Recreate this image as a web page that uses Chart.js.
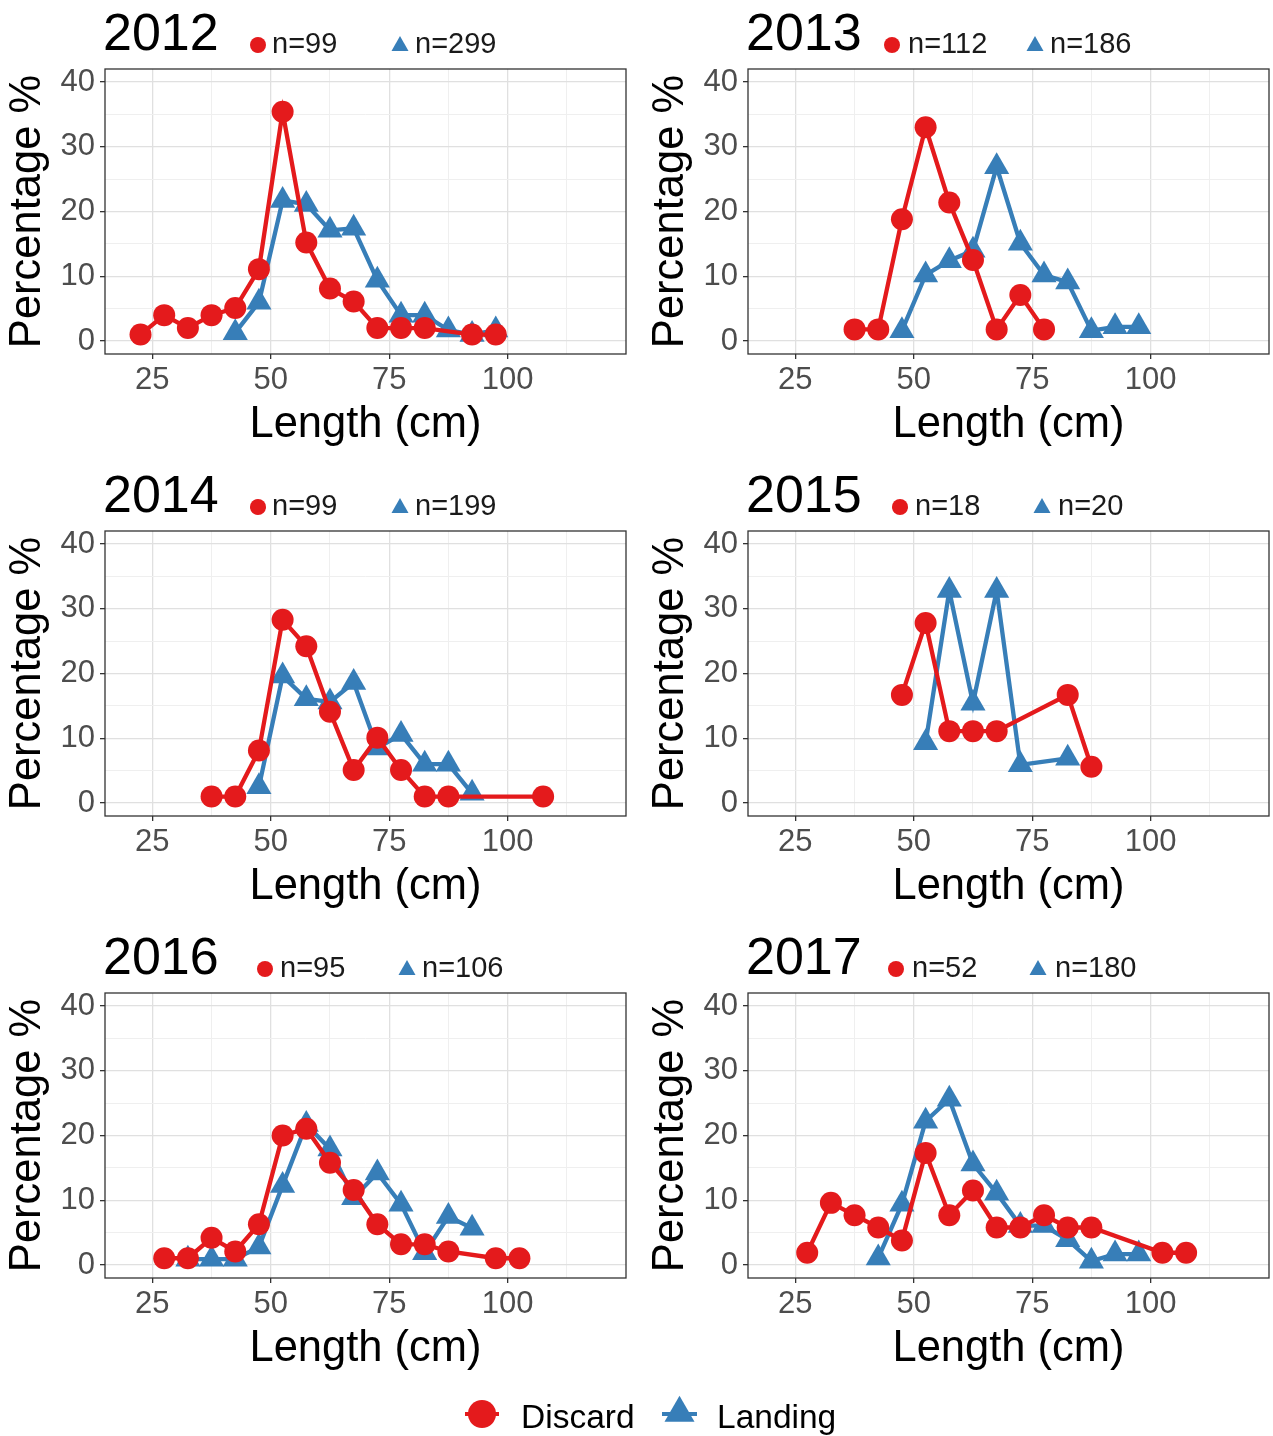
<!DOCTYPE html>
<html>
<head>
<meta charset="utf-8">
<script src="https://cdn.jsdelivr.net/npm/chart.js@4.4.1/dist/chart.umd.min.js"></script>
<style>
  html, body { margin: 0; padding: 0; background: #ffffff; }
  #page { position: relative; width: 1273px; height: 1436px; overflow: hidden; background: #fff; }
  #page canvas { position: absolute; }
  #overlay { position: absolute; left: 0; top: 0; }
  #overlay text { font-family: "Liberation Sans", Arial, sans-serif; }
</style>
</head>
<body>
<div id="page">
  <svg id="overlay" width="1273" height="1436" xmlns="http://www.w3.org/2000/svg"></svg>
</div>
<script>
// ---------------- DATA ----------------
const years = ['2012', '2013', '2014', '2015', '2016', '2017'];
const discardN = [99, 112, 99, 18, 95, 52];
const landingN = [299, 186, 199, 20, 106, 180];
const seriesNames = ['Discard', 'Landing'];
const xTickLabels = [25, 50, 75, 100];
const xMinorTicks = [37.5, 62.5, 87.5, 112.5];
const yTickLabels = [0, 10, 20, 30, 40];
const yMinorTicks = [5, 15, 25, 35];

const discard2012Len = [22.5, 27.5, 32.5, 37.5, 42.5, 47.5, 52.5, 57.5, 62.5, 67.5, 72.5, 77.5, 82.5, 92.5, 97.5];
const discard2012Pct = [1.0, 4.0, 2.0, 4.0, 5.1, 11.1, 35.4, 15.2, 8.1, 6.1, 2.0, 2.0, 2.0, 1.0, 1.0];
const landing2012Len = [42.5, 47.5, 52.5, 57.5, 62.5, 67.5, 72.5, 77.5, 82.5, 87.5, 92.5, 97.5];
const landing2012Pct = [1.3, 6.0, 21.7, 21.1, 17.1, 17.4, 9.4, 4.0, 4.0, 1.7, 1.0, 1.7];

const discard2013Len = [37.5, 42.5, 47.5, 52.5, 57.5, 62.5, 67.5, 72.5, 77.5];
const discard2013Pct = [1.8, 1.8, 18.8, 33.0, 21.4, 12.5, 1.8, 7.1, 1.8];
const landing2013Len = [47.5, 52.5, 57.5, 62.5, 67.5, 72.5, 77.5, 82.5, 87.5, 92.5, 97.5];
const landing2013Pct = [1.6, 10.2, 12.4, 14.0, 26.9, 15.1, 10.2, 9.1, 1.6, 2.2, 2.2];

const discard2014Len = [37.5, 42.5, 47.5, 52.5, 57.5, 62.5, 67.5, 72.5, 77.5, 82.5, 87.5, 107.5];
const discard2014Pct = [1.0, 1.0, 8.1, 28.3, 24.2, 14.1, 5.1, 10.1, 5.1, 1.0, 1.0, 1.0];
const landing2014Len = [47.5, 52.5, 57.5, 62.5, 67.5, 72.5, 77.5, 82.5, 87.5, 92.5];
const landing2014Pct = [2.5, 19.6, 16.1, 15.6, 18.6, 8.5, 10.6, 6.0, 6.0, 1.5];

const discard2015Len = [47.5, 52.5, 57.5, 62.5, 67.5, 82.5, 87.5];
const discard2015Pct = [16.7, 27.8, 11.1, 11.1, 11.1, 16.7, 5.6];
const landing2015Len = [52.5, 57.5, 62.5, 67.5, 72.5, 82.5];
const landing2015Pct = [9.3, 32.8, 15.4, 32.8, 5.9, 6.9];

const discard2016Len = [27.5, 32.5, 37.5, 42.5, 47.5, 52.5, 57.5, 62.5, 67.5, 72.5, 77.5, 82.5, 87.5, 97.5, 102.5];
const discard2016Pct = [1.05, 1.05, 4.2, 2.1, 6.3, 20.0, 21.05, 15.8, 11.6, 6.3, 3.2, 3.2, 2.1, 1.05, 1.05];
const landing2016Len = [32.5, 37.5, 42.5, 47.5, 52.5, 57.5, 62.5, 67.5, 72.5, 77.5, 82.5, 87.5, 92.5];
const landing2016Pct = [0.9, 0.9, 0.9, 2.8, 12.3, 21.7, 17.9, 10.4, 14.2, 9.4, 1.9, 7.5, 5.7];

const discard2017Len = [27.5, 32.5, 37.5, 42.5, 47.5, 52.5, 57.5, 62.5, 67.5, 72.5, 77.5, 82.5, 87.5, 102.5, 107.5];
const discard2017Pct = [1.9, 9.6, 7.7, 5.8, 3.8, 17.3, 7.7, 11.5, 5.8, 5.8, 7.7, 5.8, 5.8, 1.9, 1.9];
const landing2017Len = [42.5, 47.5, 52.5, 57.5, 62.5, 67.5, 72.5, 77.5, 82.5, 87.5, 92.5, 97.5];
const landing2017Pct = [1.1, 9.4, 22.2, 25.6, 15.6, 11.1, 6.1, 6.1, 3.9, 0.6, 1.7, 1.7];

const discardLens = [discard2012Len, discard2013Len, discard2014Len, discard2015Len, discard2016Len, discard2017Len];
const discardPcts = [discard2012Pct, discard2013Pct, discard2014Pct, discard2015Pct, discard2016Pct, discard2017Pct];
const landingLens = [landing2012Len, landing2013Len, landing2014Len, landing2015Len, landing2016Len, landing2017Len];
const landingPcts = [landing2012Pct, landing2013Pct, landing2014Pct, landing2015Pct, landing2016Pct, landing2017Pct];

// ---------------- STYLE / LAYOUT ----------------
const RED = '#E41A1C';
const BLUE = '#377EB8';
const FONT = '"Liberation Sans", Arial, sans-serif';
const plotLefts = [105, 748];
const plotTops = [69, 531, 993];
const plotW = 521, plotH = 285;
const yAxisW = 105, xAxisH = 97, padTop = 32;
const rowStep = 462;
// legend-in-title positions per panel: [circle cx, text x, triangle cx, text x]
const nLabelPos = [
  [258, 272, 400, 415], [892, 908, 1035, 1050],
  [258, 272, 400, 415], [900, 915, 1042, 1058],
  [265, 280, 407, 422], [896, 912, 1038, 1055]
];

Chart.defaults.font.family = FONT;

const panelBorder = {
  id: 'panelBorder',
  afterDraw(chart) {
    const { ctx, chartArea: a } = chart;
    ctx.save();
    ctx.strokeStyle = '#333333';
    ctx.lineWidth = 1.3;
    ctx.strokeRect(a.left, a.top, a.right - a.left, a.bottom - a.top);
    ctx.restore();
  }
};

function toPoints(xs, ys) { return xs.map((x, i) => ({ x: x, y: ys[i] })); }

function gridColor(majors) {
  return ctx => (ctx.tick && majors.includes(ctx.tick.value)) ? '#E0E0E0' : '#EFEFEF';
}
function gridWidth(majors) {
  return ctx => (ctx.tick && majors.includes(ctx.tick.value)) ? 1.3 : 1;
}
function tickCol(majors) {
  return ctx => (ctx.tick && majors.includes(ctx.tick.value)) ? '#333333' : 'rgba(0,0,0,0)';
}

const page = document.getElementById('page');

years.forEach((yr, i) => {
  const col = i % 2, row = Math.floor(i / 2);
  const pl = plotLefts[col], pt = plotTops[row];
  const cLeft = pl - yAxisW;
  const cTop = pt - padTop;
  const cWidth = col === 0 ? 640 : 1273 - cLeft;
  const cHeight = padTop + plotH + xAxisH;
  const padRight = cWidth - yAxisW - plotW;

  const cv = document.createElement('canvas');
  cv.width = cWidth; cv.height = cHeight;
  cv.style.left = cLeft + 'px'; cv.style.top = cTop + 'px';
  cv.style.width = cWidth + 'px'; cv.style.height = cHeight + 'px';
  page.insertBefore(cv, document.getElementById('overlay'));

  new Chart(cv, {
    type: 'line',
    data: {
      datasets: [
        {
          label: seriesNames[0],
          data: toPoints(discardLens[i], discardPcts[i]),
          borderColor: RED, backgroundColor: RED,
          pointBackgroundColor: RED, pointBorderColor: RED,
          borderWidth: 4.3, pointStyle: 'circle', pointRadius: 11, pointBorderWidth: 0,
          tension: 0, clip: false
        },
        {
          label: seriesNames[1],
          data: toPoints(landingLens[i], landingPcts[i]),
          borderColor: BLUE, backgroundColor: BLUE,
          pointBackgroundColor: BLUE, pointBorderColor: BLUE,
          borderWidth: 4.3, pointStyle: 'triangle', pointRadius: 14.5, pointBorderWidth: 0,
          tension: 0, clip: false
        }
      ]
    },
    options: {
      responsive: false, animation: false, devicePixelRatio: 1,
      layout: { autoPadding: false, padding: { top: padTop, right: padRight, left: 0, bottom: 0 } },
      plugins: { legend: { display: false }, tooltip: { enabled: false } },
      events: [],
      scales: {
        x: {
          type: 'linear', min: 15, max: 125,
          afterBuildTicks: s => { s.ticks = xTickLabels.concat(xMinorTicks).sort((a, b) => a - b).map(v => ({ value: v })); },
          afterFit: s => { s.height = xAxisH; },
          border: { display: false },
          grid: {
            color: gridColor(xTickLabels), lineWidth: gridWidth(xTickLabels),
            drawTicks: true, tickLength: 5, tickColor: tickCol(xTickLabels), tickWidth: 1.3
          },
          ticks: {
            autoSkip: false, maxRotation: 0, padding: 3, color: '#4D4D4D',
            font: { size: 31, family: FONT },
            callback: v => xTickLabels.includes(v) ? String(v) : ''
          },
          title: { display: true, text: 'Length (cm)', color: '#000000', font: { size: 43.5, family: FONT }, padding: 0 }
        },
        y: {
          type: 'linear', min: -2, max: 42,
          afterBuildTicks: s => { s.ticks = yTickLabels.concat(yMinorTicks).sort((a, b) => a - b).map(v => ({ value: v })); },
          afterFit: s => { s.width = yAxisW; },
          border: { display: false },
          grid: {
            color: gridColor(yTickLabels), lineWidth: gridWidth(yTickLabels),
            drawTicks: true, tickLength: 5, tickColor: tickCol(yTickLabels), tickWidth: 1.3
          },
          ticks: {
            autoSkip: false, padding: 5, color: '#4D4D4D',
            font: { size: 31, family: FONT },
            callback: v => yTickLabels.includes(v) ? String(v) : ''
          },
          title: { display: true, text: 'Percentage %', color: '#000000', font: { size: 43.5, family: FONT }, padding: { top: 2, bottom: 0 } }
        }
      }
    },
    plugins: [panelBorder]
  });
});

// ---------------- SVG overlay: panel titles, n labels, legend ----------------
const svg = document.getElementById('overlay');
const NS = 'http://www.w3.org/2000/svg';
function el(tag, attrs, text) {
  const e = document.createElementNS(NS, tag);
  for (const k in attrs) e.setAttribute(k, attrs[k]);
  if (text !== undefined) e.textContent = text;
  svg.appendChild(e);
  return e;
}
function tri(cx, cy, w, h, fill) {
  // centroid at (cx, cy)
  const top = cy - 2 * h / 3, base = cy + h / 3;
  el('polygon', { points: `${cx - w / 2},${base} ${cx + w / 2},${base} ${cx},${top}`, fill: fill });
}

years.forEach((yr, i) => {
  const col = i % 2, row = Math.floor(i / 2);
  const off = row * rowStep;
  const p = nLabelPos[i];
  el('text', { x: plotLefts[col] - 2, y: 50 + off, 'font-size': 52, fill: '#000' }, yr);
  el('circle', { cx: p[0], cy: 45 + off, r: 8, fill: RED });
  el('text', { x: p[1], y: 53 + off, 'font-size': 29, fill: '#1a1a1a' }, 'n=' + discardN[i]);
  tri(p[2], 46 + off, 17, 15, BLUE);
  el('text', { x: p[3], y: 53 + off, 'font-size': 29, fill: '#1a1a1a' }, 'n=' + landingN[i]);
});

// bottom legend
el('line', { x1: 465, y1: 1414, x2: 499, y2: 1414, stroke: RED, 'stroke-width': 4 });
el('circle', { cx: 482, cy: 1414, r: 14, fill: RED });
el('text', { x: 521, y: 1428, 'font-size': 33.5, fill: '#000' }, seriesNames[0]);
el('line', { x1: 662, y1: 1414, x2: 697, y2: 1414, stroke: BLUE, 'stroke-width': 4 });
tri(679.5, 1413, 30, 26, BLUE);
el('text', { x: 717, y: 1428, 'font-size': 33.5, fill: '#000' }, seriesNames[1]);
</script>
</body>
</html>
